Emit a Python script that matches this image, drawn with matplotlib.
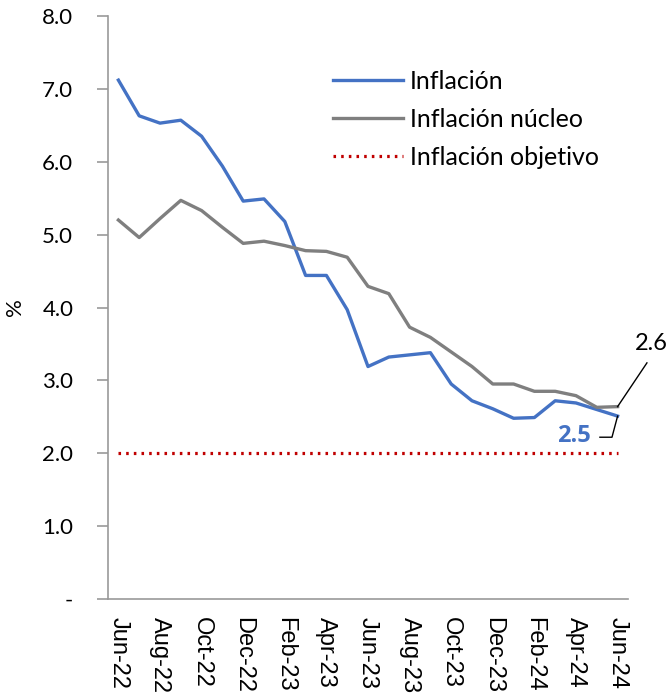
import matplotlib
matplotlib.use("Agg")
import matplotlib.pyplot as plt
import numpy as np

months = ["Jun-22", "Jul-22", "Aug-22", "Sep-22", "Oct-22", "Nov-22", "Dec-22",
          "Jan-23", "Feb-23", "Mar-23", "Apr-23", "May-23", "Jun-23", "Jul-23",
          "Aug-23", "Sep-23", "Oct-23", "Nov-23", "Dec-23", "Jan-24", "Feb-24",
          "Mar-24", "Apr-24", "May-24", "Jun-24"]
inflacion = [7.12, 6.63, 6.53, 6.57, 6.35, 5.94, 5.46, 5.49, 5.18, 4.44, 4.44,
             3.97, 3.19, 3.32, 3.35, 3.38, 2.95, 2.72, 2.61, 2.48, 2.49, 2.72,
             2.69, 2.60, 2.51]
nucleo = [5.20, 4.96, 5.22, 5.47, 5.33, 5.10, 4.88, 4.91, 4.85, 4.78, 4.77,
          4.69, 4.29, 4.19, 3.73, 3.59, 3.39, 3.19, 2.95, 2.95, 2.85, 2.85,
          2.79, 2.63, 2.64]
objetivo = [2.0] * len(months)
tick_labels = months[::2]

BLUE = "#4472C4"
GRAY = "#7F7F7F"
RED = "#C00000"
AXIS = "#999999"
FONT = "Lato"

fig = plt.figure(figsize=(6.7, 6.94), dpi=100)
ax = fig.add_axes([108 / 670, 95 / 694, 520 / 670, 583 / 694])

x = np.arange(len(months))
ax.plot(x, inflacion, color=BLUE, lw=2.4, label="Inflación", solid_joinstyle="round")
ax.plot(x, nucleo, color=GRAY, lw=2.4, label="Inflación núcleo", solid_joinstyle="round")
ax.plot(x, objetivo, color=RED, lw=2.3, ls=(0, (0.8, 1.6)), label="Inflación objetivo")

ax.set_xlim(-0.5, len(months) - 0.5)
ax.set_ylim(0, 8)
ax.set_yticks(np.arange(0, 9, 1))
ax.set_yticklabels(["-"] + ["%.1f" % v for v in range(1, 9)], fontsize=16, family=FONT)
ax.set_xticks(x[::2])
ax.set_xticklabels(tick_labels, rotation=-90, fontsize=17, family="Liberation Sans")
ax.tick_params(axis="x", length=0, pad=13)
ax.tick_params(axis="y", length=8, color=AXIS, width=1.2, pad=17)
for s in ["top", "right"]:
    ax.spines[s].set_visible(False)
for s in ["left", "bottom"]:
    ax.spines[s].set_color(AXIS)
    ax.spines[s].set_linewidth(1.2)
ax.set_ylabel("%", fontsize=16, family=FONT, labelpad=12)

leg = ax.legend(loc="upper left", bbox_to_anchor=(0.4327, 0.907), frameon=False,
                prop={"family": FONT, "size": 18}, handlelength=2.8,
                handletextpad=0.28, labelspacing=0.6, borderpad=0, borderaxespad=0)

# end labels with leader lines
last = len(months) - 1
ax.plot([last, 25.41], [nucleo[-1], 3.24], color="black", lw=1, clip_on=False)
ax.text(25.6, 3.51, "%.1f" % nucleo[-1], fontsize=17, family=FONT,
        ha="center", va="center", clip_on=False)
ax.plot([last, 23.73, 23.15], [inflacion[-1], 2.22, 2.22], color="black", lw=1)
ax.text(21.9, 2.24, "%.1f" % inflacion[-1], fontsize=17, family="Open Sans",
        fontweight="bold", color=BLUE, ha="center", va="center")

fig.savefig("out.png", dpi=100)
